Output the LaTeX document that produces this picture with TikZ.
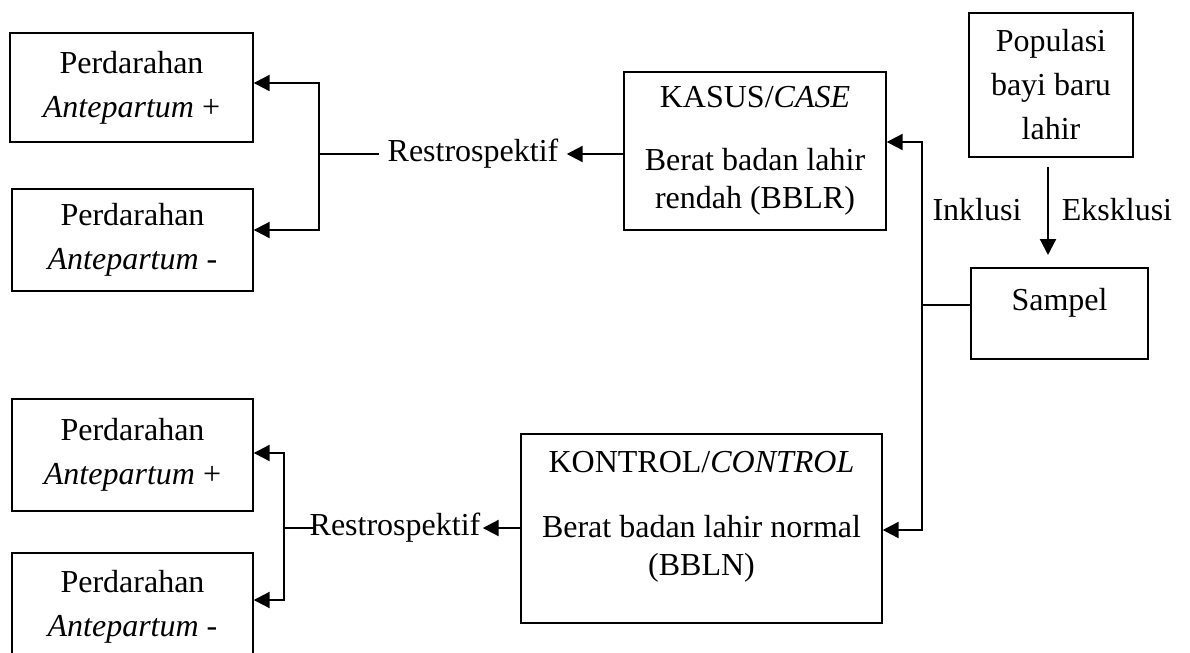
\documentclass[tikz,border=0pt]{standalone}
\usepackage{fontspec}
\setmainfont{Liberation Serif}
\usetikzlibrary{arrows.meta,calc}
\tikzset{
  box/.style={
      draw,
      line width=0.7pt,
      rectangle,
      align=center,
      inner sep=0pt,
      font=\fontsize{16}{19}\selectfont
  },
  box+/.style={
      box,
      font=\fontsize{16}{22}\selectfont
  },
  lbl/.style={font=\fontsize{16}{19}\selectfont, inner sep=#1},
  lbl/.default=3pt,
  arr/.style={line width=1.1pt, -{Triangle[length=8pt,width=8pt]}},
  ln/.style={line width=0.6pt}
}
\begin{document}
\begin{tikzpicture}[x=0.5pt,y=-0.5pt]
    \useasboundingbox (0,0) rectangle (1190,653);
    \node[box+, minimum width=121.5pt, minimum height=54.5pt] (pp1) at (131.5,87.5) {Perdarahan\\\textit{Antepartum} +};
    \node[box+, minimum width=120.5pt, minimum height=51pt] (pm1) at (132.5,240) {Perdarahan\\\textit{Antepartum} -};
    \node[box+, minimum width=120.5pt, minimum height=56pt] (pp2) at (132.5,455) {Perdarahan\\\textit{Antepartum} +};
    \node[box+, minimum width=120.5pt, minimum height=53.5pt] (pm2) at (132.5,606.5) {Perdarahan\\\textit{Antepartum} -};
    \node[box, minimum width=131pt, minimum height=79pt] (kasus) at (755,151)
        {KASUS/\textit{CASE}\\[12.5pt]Berat badan lahir\\rendah (BBLR)};
    \node[box, minimum width=180.5pt, minimum height=94.5pt, text depth=15.5pt] (kontrol) at (701.5,528.5)
        {KONTROL/\textit{CONTROL}\\[13.5pt]Berat badan lahir normal\\(BBLN)};
    \node[box+, minimum width=82pt, minimum height=72pt] (pop) at (1051,85) {Populasi\\bayi baru\\lahir};
    \node[box, minimum width=88.5pt, minimum height=45.5pt, text depth=14.5pt] (sampel) at (1059.5,313.5) {Sampel};
    \node[lbl=4pt] (rs1) at (473,154) {Restrospektif};
    \node[lbl=1pt] (rs2) at (395,528) {Restrospektif};
    \node[lbl] (inkl) at (977,210) {Inklusi};
    \node[lbl] (ekskl) at (1117,210) {Eksklusi};

    \coordinate (popout) at (1048,167);
    \coordinate (sampelin) at (1048,255);
    \coordinate (trunk) at (922,305);
    \coordinate (trunkt) at (922,142);
    \coordinate (trunkb) at (922,530);
    \coordinate (br1) at (319,154);
    \coordinate (br1t) at (319,83);
    \coordinate (br1b) at (319,230);
    \coordinate (br2) at (284,528);
    \coordinate (br2t) at (284,453);
    \coordinate (br2b) at (284,600);

    \draw[arr] (popout) -- (sampelin);
    \draw[ln] (sampel.west |- trunk) -- (trunk);
    \draw[arr] (trunk) -- (trunkt) -- (trunkt -| kasus.east);
    \draw[arr] (trunk) -- (trunkb) -- (trunkb -| kontrol.east);
    \draw[arr] (kasus.west |- rs1.east) -- (rs1.east);
    \draw[ln] (rs1.west) -- (br1);
    \draw[arr] (br1) -- (br1t) -- (br1t -| pp1.east);
    \draw[arr] (br1) -- (br1b) -- (br1b -| pm1.east);
    \draw[arr] (kontrol.west |- rs2.east) -- (rs2.east);
    \draw[ln] (br2) -- ([xshift=4pt]rs2.west);
    \draw[arr] (br2) -- (br2t) -- (br2t -| pp2.east);
    \draw[arr] (br2) -- (br2b) -- (br2b -| pm2.east);
\end{tikzpicture}
\end{document}
